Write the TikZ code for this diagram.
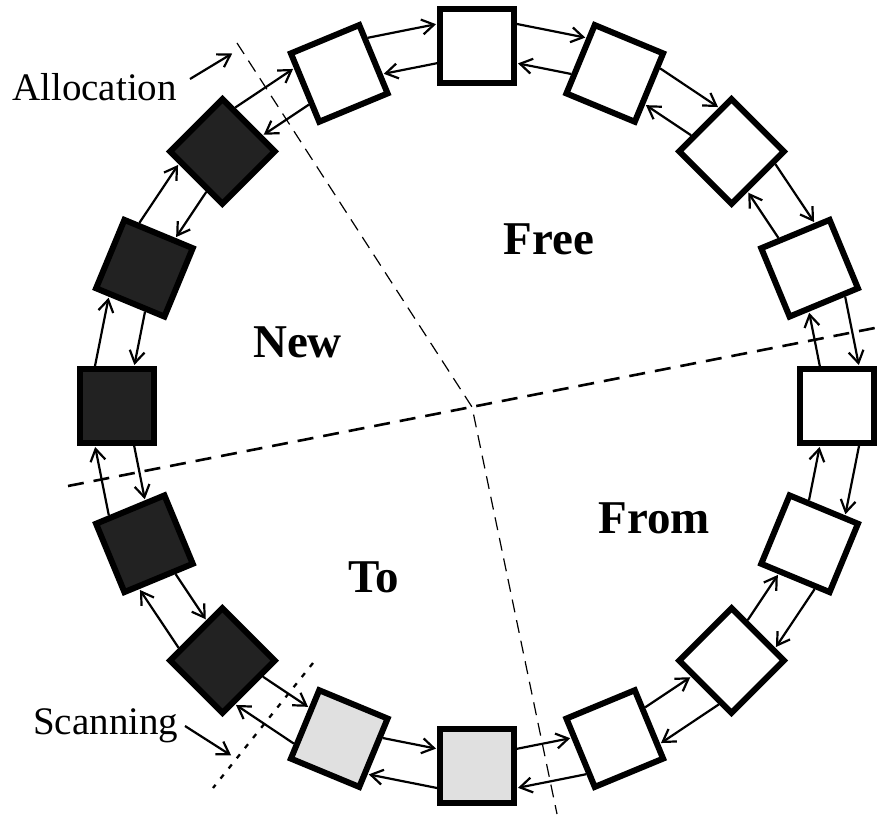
\documentclass[tikz,border=0pt]{standalone}
\usepackage{fontspec}
\setmainfont{Liberation Serif}
\usetikzlibrary{arrows.meta,calc}
\definecolor{darkfill}{HTML}{222222}
\definecolor{lightfill}{HTML}{E0E0E0}
\begin{document}
\begin{tikzpicture}[x=1pt,y=1pt,
  cell/.style={draw=black, line width=6pt, minimum size=74pt, inner sep=0pt, outer sep=3pt},
  link/.style={line width=2.2pt, shorten >=1pt, -{Straight Barb[length=12pt,width=15pt]}},
  divthin/.style={line width=1.2pt, dash pattern=on 13pt off 8pt},
  divthick/.style={line width=2.6pt, dash pattern=on 16pt off 10pt},
  scanline/.style={line width=2.3pt, dash pattern=on 5pt off 8pt},
  lbl/.style={font=\fontsize{39}{47}\selectfont, inner sep=0pt, anchor=base west},
  region/.style={font=\fontsize{47}{56}\selectfont\bfseries, inner sep=0pt, anchor=base}
]
\useasboundingbox (0,0) rectangle (880,814);

% division lines
\coordinate (thinA) at (237,771);
\coordinate (mid) at (472,407);
\coordinate (thinB) at (557,0);
\coordinate (thickA) at (68,328);
\coordinate (thickB) at (880,487);
\coordinate (scanA) at (313,151);
\coordinate (scanB) at (213,26);
\draw[divthin] (thinA) -- (mid) -- (thinB);
\draw[divthick] (thickA) -- (thickB);
\draw[scanline] (scanA) -- (scanB);

% ring of cells
\begin{scope}[shift={(477,408)}]
\foreach \k/\col in {0/white,1/white,2/white,3/white,4/white,5/white,6/white,7/white,
                     8/lightfill,9/lightfill,10/darkfill,11/darkfill,12/darkfill,13/darkfill,14/darkfill,15/white} {
  \pgfmathsetmacro\a{90-22.5*\k}
  \node[cell, fill=\col, rotate=\a-90] (b\k) at (\a:360) {};
}
\end{scope}

% links between neighbouring cells
\foreach \k in {0,...,15} {
  \pgfmathtruncatemacro\n{mod(\k+1,16)}
  \draw[link] ($(b\k.east)!0.55!(b\k.north east)$) -- ($(b\n.west)!0.55!(b\n.north west)$);
  \draw[link] ($(b\n.west)!0.43!(b\n.south west)$) -- ($(b\k.east)!0.43!(b\k.south east)$);
}

% region labels
\node[region] (free) at (549,559) {Free};
\node[region] (new) at (297.5,456) {New};
\node[region] (from) at (654,280) {From};
\node[region] (to) at (373.5,222) {To};

% pointer labels
\node[lbl] (alloc) at (12,713) {Allocation};
\coordinate (allocS) at (190,735);
\coordinate (allocE) at (233,761);
\draw[link] (allocS) -- (allocE);

\node[lbl] (scan) at (33,80) {Scanning};
\coordinate (scanS) at (185,88);
\coordinate (scanE) at (232,58);
\draw[link] (scanS) -- (scanE);
\end{tikzpicture}
\end{document}
